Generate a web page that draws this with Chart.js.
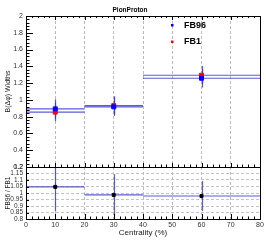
<!DOCTYPE html>
<html>
<head>
<meta charset="utf-8">
<script src="https://cdn.jsdelivr.net/npm/chart.js@4.4.1/dist/chart.umd.min.js"></script>
<style>
  html, body { margin: 0; padding: 0; background: #fff; }
  #wrap { position: relative; width: 266px; height: 241px; }
  #wrap canvas { position: absolute; left: 0; top: 0; }
</style>
</head>
<body>
<div id="wrap">
  <canvas id="topChart" width="266" height="241"></canvas>
  <canvas id="ratioChart" width="266" height="241"></canvas>
</div>
<script>
// centrality bins (%)
const binCenters = [10, 30, 60];
const binLo = [0, 20, 40];
const binHi = [20, 40, 80];

// B(dphi) widths
const fb96 = [0.893, 0.917, 1.258];
const fb96Err = [0.115, 0.11, 0.11];
const fb1 = [0.854, 0.932, 1.294];
const fb1Err = [0.11, 0.11, 0.11];

// ratio FB96 / FB1
const ratio = [1.047, 0.985, 0.977];
const ratioErr = [0.19, 0.16, 0.115];

const FONT = '"Liberation Sans", Arial, sans-serif';
const ERR_COLOR = 'rgba(50,50,210,0.8)';

function pts(vals) {
  return binCenters.map((c, i) => ({ x: c, y: vals[i] }));
}

// ROOT style labels: 2, 1.8, 1.05 ...
function rootLabel(v) {
  return String(parseFloat(v.toFixed(3)));
}

// draws ROOT-like frame, inner ticks, error bars
const rootFrame = {
  id: 'rootFrame',
  beforeDatasetsDraw(chart) {
    const { ctx, chartArea: a, scales: { x, y } } = chart;
    ctx.save();
    ctx.beginPath();
    ctx.rect(a.left, a.top, a.right - a.left, a.bottom - a.top);
    ctx.clip();
    chart.data.datasets.forEach(ds => {
      const eb = ds.errorBars;
      if (!eb) return;
      ctx.strokeStyle = ERR_COLOR;
      ctx.lineWidth = 1.2;
      ds.data.forEach((p, i) => {
        const py = y.getPixelForValue(p.y);
        const px = Math.round(x.getPixelForValue(p.x)) + 0.5;
        ctx.beginPath();
        ctx.moveTo(x.getPixelForValue(eb.lo[i]), py);
        ctx.lineTo(x.getPixelForValue(eb.hi[i]), py);
        ctx.moveTo(px, y.getPixelForValue(p.y + eb.err[i]));
        ctx.lineTo(px, y.getPixelForValue(p.y - eb.err[i]));
        ctx.stroke();
      });
    });
    ctx.restore();
  },
  afterDraw(chart, args, opts) {
    const { ctx, chartArea: a, scales } = chart;
    ctx.save();
    ctx.strokeStyle = '#000';
    ctx.lineWidth = 1;
    (opts.marks || []).forEach(m => {
      const s = scales[m.axis];
      const n = Math.round((s.max - s.min) / m.step);
      const base = m.side === 'left' ? a.left : m.side === 'top' ? a.top : a.bottom;
      const dir = m.side === 'bottom' ? -1 : 1;
      for (let k = 0; k <= n; k++) {
        const p = Math.round(s.getPixelForValue(s.min + k * m.step)) + 0.5;
        ctx.beginPath();
        if (m.axis === 'x') { ctx.moveTo(p, base); ctx.lineTo(p, base + dir * m.len); }
        else { ctx.moveTo(base, p); ctx.lineTo(base + dir * m.len, p); }
        ctx.stroke();
      }
    });
    ctx.strokeRect(Math.round(a.left) + 0.5, Math.round(a.top) + 0.5,
      Math.round(a.right - a.left), Math.round(a.bottom - a.top));

    if (opts.legend) {
      ctx.font = 'bold 9px ' + FONT;
      ctx.textBaseline = 'middle';
      chart.data.datasets.forEach((ds, i) => {
        const ly = opts.legend.y + i * opts.legend.gap;
        ctx.fillStyle = ds.backgroundColor;
        ctx.fillRect(opts.legend.x - 1, ly - 1, 2.5, 2.5);
        ctx.fillStyle = '#000';
        ctx.fillText(ds.label, opts.legend.x + 12, ly + 0.5);
      });
    }
    ctx.restore();
  }
};

new Chart(document.getElementById('topChart'), {
  type: 'scatter',
  data: {
    datasets: [
      {
        label: 'FB96',
        data: pts(fb96),
        backgroundColor: '#0000ff',
        borderColor: '#0000ff',
        pointStyle: 'rect',
        pointRadius: 2.8,
        errorBars: { lo: binLo, hi: binHi, err: fb96Err }
      },
      {
        label: 'FB1',
        data: pts(fb1),
        backgroundColor: '#ff0000',
        borderColor: '#ff0000',
        pointStyle: 'rect',
        pointRadius: 2.8,
        errorBars: { lo: binLo, hi: binHi, err: fb1Err }
      }
    ]
  },
  options: {
    responsive: false,
    animation: false,
    devicePixelRatio: 1,
    layout: { padding: { left: 0, right: 6, bottom: 74, top: 0 } },
    plugins: {
      legend: { display: false },
      tooltip: { enabled: false },
      title: {
        display: true,
        text: 'PionProton',
        color: '#000',
        font: { family: FONT, size: 6.5, weight: 'bold', lineHeight: 1.2 },
        padding: { top: 6, bottom: 2.2 }
      },
      rootFrame: {
        legend: { x: 172, y: 25, gap: 16.5 },
        marks: [
          { axis: 'y', side: 'left', step: 0.2, len: 7 },
          { axis: 'y', side: 'left', step: 0.04, len: 3.5 },
          { axis: 'x', side: 'top', step: 10, len: 4 },
          { axis: 'x', side: 'top', step: 2, len: 2 },
          { axis: 'x', side: 'bottom', step: 10, len: 4 },
          { axis: 'x', side: 'bottom', step: 2, len: 2.5 }
        ]
      }
    },
    scales: {
      x: {
        type: 'linear',
        min: 0, max: 80,
        ticks: { display: false, stepSize: 10 },
        grid: { color: '#bbb', drawTicks: false },
        border: { display: false, dash: [3, 2] },
        afterFit(s) { s.height = 0; }
      },
      y: {
        min: 0.2, max: 2,
        ticks: { stepSize: 0.2, padding: 3, color: '#333', font: { family: FONT, size: 7 }, callback: rootLabel },
        grid: { display: false, drawTicks: false },
        border: { display: false },
        title: {
          display: true,
          text: 'B(Δφ) Widths',
          color: '#222',
          font: { family: FONT, size: 7, lineHeight: 1.2 },
          padding: { top: 4, bottom: 0 }
        },
        afterFit(s) { s.width = 26; }
      }
    }
  },
  plugins: [rootFrame]
});

new Chart(document.getElementById('ratioChart'), {
  type: 'scatter',
  data: {
    datasets: [
      {
        label: 'FB96 / FB1',
        data: pts(ratio),
        backgroundColor: '#000',
        borderColor: '#000',
        pointStyle: 'rect',
        pointRadius: 2.1,
        errorBars: { lo: binLo, hi: binHi, err: ratioErr }
      }
    ]
  },
  options: {
    responsive: false,
    animation: false,
    devicePixelRatio: 1,
    layout: { padding: { left: 0, right: 6, bottom: 0, top: 167 } },
    plugins: {
      legend: { display: false },
      tooltip: { enabled: false },
      rootFrame: {
        marks: [
          { axis: 'y', side: 'left', step: 0.05, len: 3 },
          { axis: 'x', side: 'bottom', step: 10, len: 5 },
          { axis: 'x', side: 'bottom', step: 2, len: 2.5 }
        ]
      }
    },
    scales: {
      x: {
        type: 'linear',
        min: 0, max: 80,
        ticks: { stepSize: 10, padding: 2, color: '#333', font: { family: FONT, size: 7 }, callback: rootLabel },
        grid: { color: '#bbb', drawTicks: false },
        border: { display: false, dash: [3, 2] },
        title: {
          display: true,
          text: 'Centrality (%)',
          color: '#222',
          font: { family: FONT, size: 8, lineHeight: 1.2 },
          padding: { top: 0, bottom: 3 }
        },
        afterFit(s) { s.height = 22; }
      },
      y: {
        min: 0.8, max: 1.2,
        ticks: {
          stepSize: 0.05, autoSkip: false, padding: 3, color: '#333',
          font: { family: FONT, size: 6.5, lineHeight: 1 }, callback: rootLabel
        },
        grid: { color: '#c4c4c4', drawTicks: false },
        border: { display: false, dash: [3, 2] },
        title: {
          display: true,
          text: 'FB96 / FB1',
          color: '#222',
          font: { family: FONT, size: 6.5, lineHeight: 1.2 },
          padding: { top: 4, bottom: 0 }
        },
        afterFit(s) { s.width = 26; }
      }
    }
  },
  plugins: [rootFrame]
});
</script>
</body>
</html>
